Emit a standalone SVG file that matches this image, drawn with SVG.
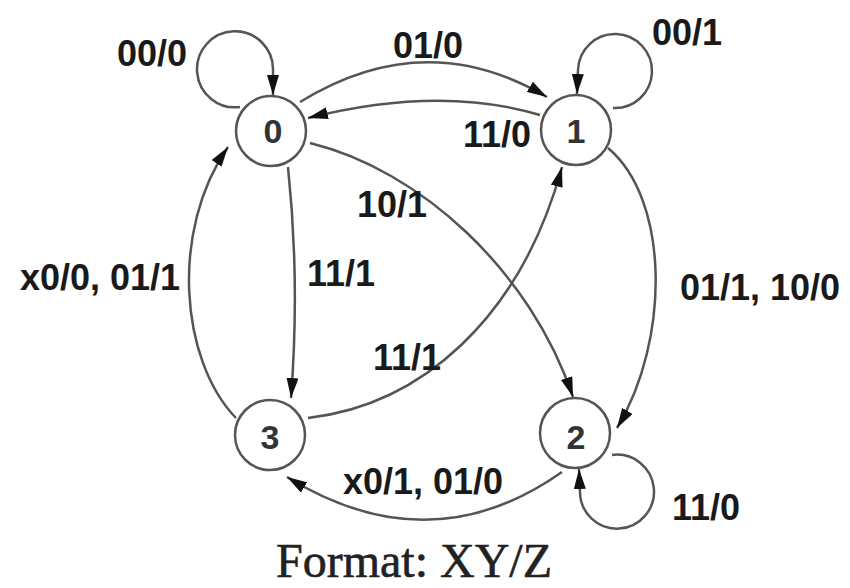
<svg xmlns="http://www.w3.org/2000/svg" width="850" height="588" viewBox="0 0 850 588">
  <style>
    .state circle { fill: #fff; stroke: #555; stroke-width: 2.5; }
    .state text { font-family: "Liberation Sans", Arial, sans-serif; font-size: 34px; font-weight: bold; fill: #333; text-anchor: middle; }
    .edge { fill: none; stroke: #555; stroke-width: 2.5; marker-end: url(#arrow); }
    .lbl { font-family: "Liberation Sans", Arial, sans-serif; font-size: 36px; font-weight: bold; fill: #1a1a1a; }
    .caption { font-family: "Liberation Serif", "Times New Roman", serif; font-size: 48px; fill: #222; stroke: #222; stroke-width: 0.6; text-anchor: middle; }
  </style>
  <defs>
    <marker id="arrow" markerUnits="userSpaceOnUse" markerWidth="22" markerHeight="12" refX="20" refY="6" orient="auto">
      <path d="M0,0 L20,6 L0,12 Z" fill="#111"/>
    </marker>
  </defs>
  <rect width="850" height="588" fill="#fff"/>

  <!-- transitions -->
  <g id="connectors">
    <!-- self loops -->
    <path class="edge" d="M 240 107 A 38 38 0 1 1 273 70 L 273 95"/>
    <path class="edge" d="M 613 108 A 37 37 0 1 0 578 70 L 577 94"/>
    <path class="edge" d="M 612 455 A 37 37 0 1 1 580 492 L 579 469"/>
    <!-- 0 -> 1 -->
    <path class="edge" d="M 300 102 Q 425 25 547 97"/>
    <!-- 1 -> 0 -->
    <path class="edge" d="M 540 115 Q 440 85 308 118"/>
    <!-- 0 -> 2 -->
    <path class="edge" d="M 310 143 C 420 170 530 270 573 397"/>
    <!-- 3 -> 1 -->
    <path class="edge" d="M 308 418 C 420 405 520 320 562 167"/>
    <!-- 0 -> 3 -->
    <path class="edge" d="M 288 167 Q 300 280 291 398"/>
    <!-- 3 -> 0 -->
    <path class="edge" d="M 236 418 C 180 360 170 230 228 147"/>
    <!-- 1 -> 2 -->
    <path class="edge" d="M 608 148 C 670 200 670 340 617 428"/>
    <!-- 2 -> 3 -->
    <path class="edge" d="M 562 472 Q 430 565 287 477"/>

    <!-- transition labels -->
    <text class="lbl" x="117" y="66">00/0</text>
    <text class="lbl" x="652" y="45">00/1</text>
    <text class="lbl" x="672" y="520">11/0</text>
    <text class="lbl" x="393" y="58">01/0</text>
    <text class="lbl" x="463" y="147">11/0</text>
    <text class="lbl" x="357" y="217">10/1</text>
    <text class="lbl" x="307" y="286">11/1</text>
    <text class="lbl" x="373" y="370">11/1</text>
    <text class="lbl" x="20" y="290">x0/0, 01/1</text>
    <text class="lbl" x="680" y="300">01/1, 10/0</text>
    <text class="lbl" x="343" y="494">x0/1, 01/0</text>
  </g>

  <!-- states -->
  <g id="s0" class="state">
    <circle cx="271" cy="131" r="35"/>
    <text x="273" y="143">0</text>
  </g>
  <g id="s1" class="state">
    <circle cx="576" cy="130" r="35"/>
    <text x="576" y="143">1</text>
  </g>
  <g id="s2" class="state">
    <circle cx="575" cy="433" r="35"/>
    <text x="576" y="449">2</text>
  </g>
  <g id="s3" class="state">
    <circle cx="270" cy="435" r="35"/>
    <text x="270" y="449">3</text>
  </g>

  <text class="caption" x="414" y="577">Format: XY/Z</text>
</svg>
